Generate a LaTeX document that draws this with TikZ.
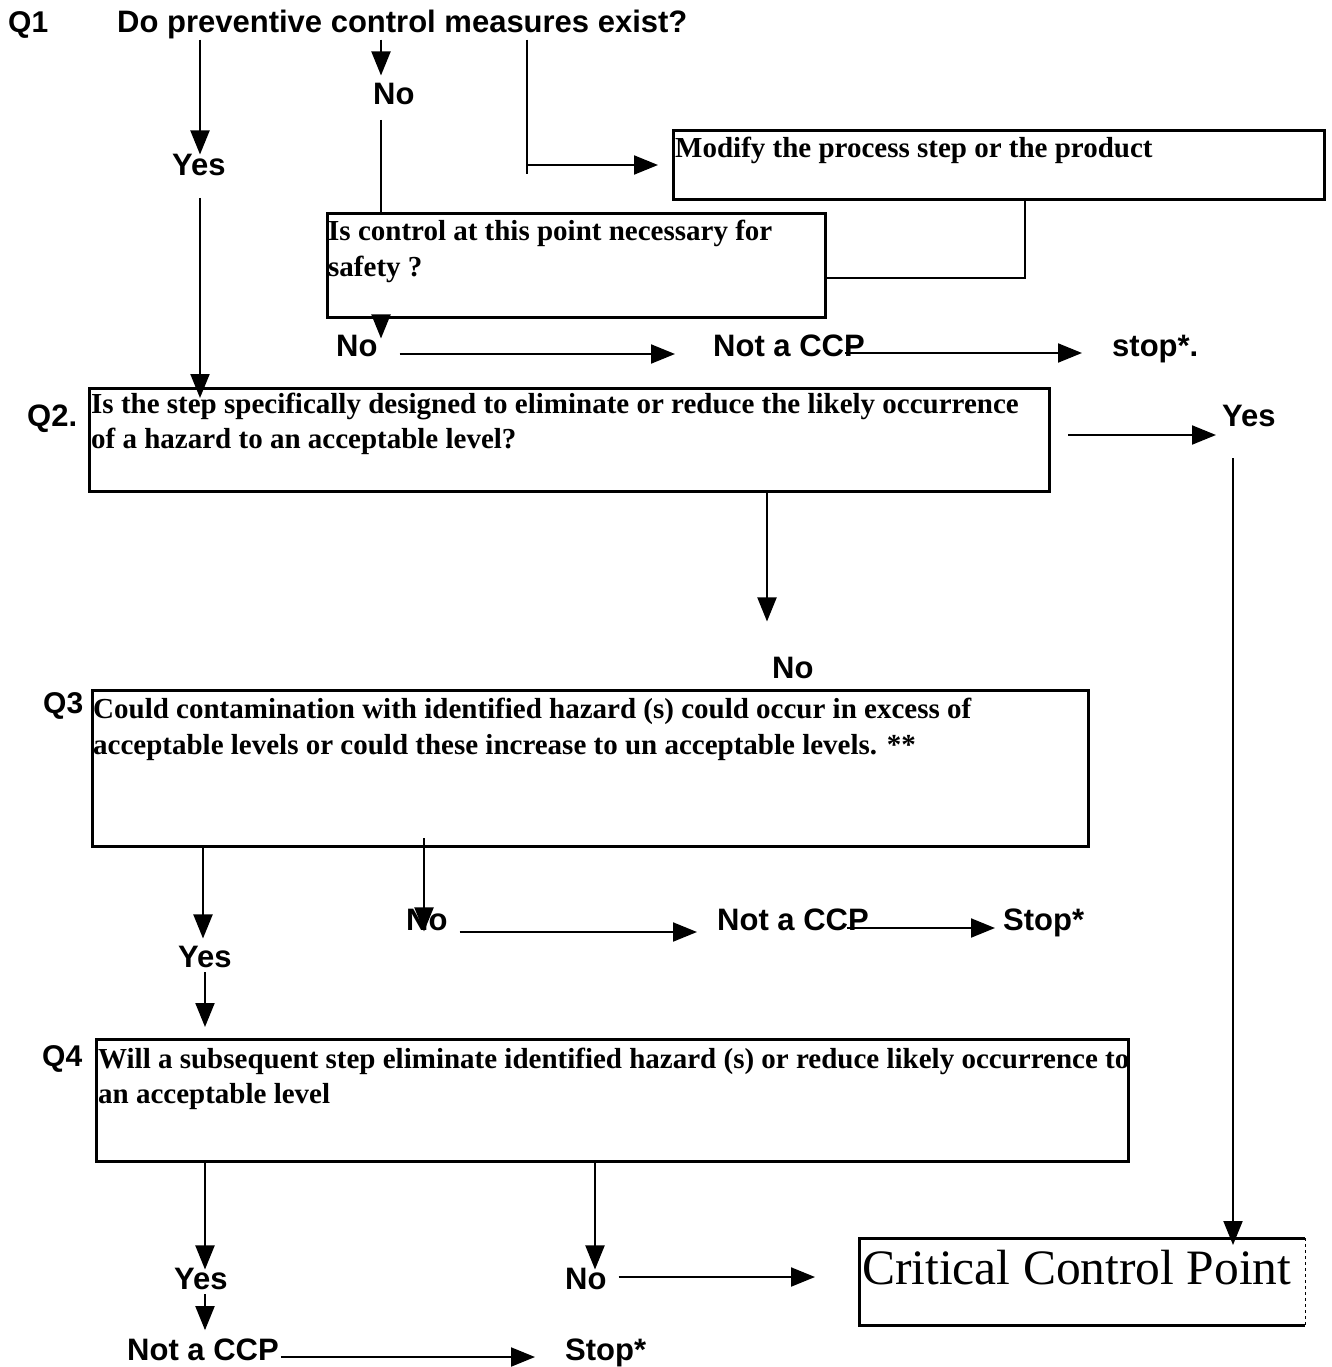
\documentclass[tikz,border=0pt]{standalone}
\usepackage{fontspec}
\setmainfont{Liberation Serif}
\newfontfamily\labfont{Liberation Sans}
\usetikzlibrary{arrows.meta,calc}

\begin{document}
\begin{tikzpicture}[x=1pt,y=-1pt,
  lab/.style={font=\labfont\bfseries\fontsize{31}{37}\selectfont, inner sep=0, anchor=base west},
  qlab/.style={font=\labfont\bfseries\fontsize{30}{36}\selectfont, inner sep=0, anchor=base west},
  qtext/.style={font=\bfseries\fontsize{29}{35}\selectfont, inner sep=0, anchor=base west},
  qbox/.style={draw, line width=3pt, anchor=north west, inner sep=0},
  conn/.style={line width=2pt},
  arr/.style={line width=2pt, -{Triangle[length=24pt,width=19pt]}},
]
\fill[white] (0,0) rectangle (1332,1367);
\useasboundingbox (0,0) rectangle (1332,1367);

% connector columns
\coordinate (xA) at (200,0);
\coordinate (xB) at (381,0);
\coordinate (xC) at (527,0);
\coordinate (xD) at (1025,0);
\coordinate (xE) at (767,0);
\coordinate (xF) at (1233,0);
\coordinate (xG) at (203,0);
\coordinate (xG2) at (205,0);
\coordinate (xH) at (424,0);
\coordinate (xI) at (205,0);
\coordinate (xJ) at (595,0);

% Q1
\node[qlab] (q1lbl) at (8,33) {Q1};
\node[lab] (q1) at (117,33) {Do preventive control measures exist?};
\node[lab] (yes1) at (172,176) {Yes};
\node[lab] (no1) at (373,105) {No};

\node[qbox, minimum width=651pt, minimum height=69pt] (modify) at (672,129) {};
\node[qtext] (modifyt) at (675,158) {Modify the process step or the product};

\node[qbox, minimum width=498pt, minimum height=104pt] (safety) at (326,212) {};
\node[qtext] (safetya) at (328,240) {Is control at this point necessary for};
\node[qtext] (safetyb) at (328,276) {safety ?};

\node[lab] (no2) at (336,356) {No};
\node[lab] (ncc1) at (713,356) {Not a CCP};
\node[lab] (stop1) at (1112,356) {stop*.};

% Q2
\node[lab] (q2lbl) at (27,426) {Q2.};
\node[qbox, minimum width=960pt, minimum height=103pt] (q2) at (88,387) {};
\node[qtext] (q2a) at (91,413) {Is the step specifically designed to eliminate or reduce the likely occurrence};
\node[qtext] (q2b) at (91,448) {of a hazard to an acceptable level?};
\node[lab] (yes2) at (1222,426) {Yes};
\node[lab] (no3) at (772,678) {No};

% Q3
\node[qlab] (q3lbl) at (43,713) {Q3};
\node[qbox, minimum width=996pt, minimum height=156pt] (q3) at (91,689) {};
\node[qtext] (q3a) at (93,718) {Could contamination with identified hazard (s) could occur in excess of};
\node[qtext] (q3b) at (93,754) {acceptable levels or could these increase to un acceptable levels. **};
\node[lab] (yes3) at (178,967) {Yes};
\node[lab] (no4) at (406,930) {No};
\node[lab] (ncc2) at (717,930) {Not a CCP};
\node[lab] (stop2) at (1003,930) {Stop*};

% Q4
\node[qlab] (q4lbl) at (42,1066) {Q4};
\node[qbox, minimum width=1032pt, minimum height=122pt] (q4) at (95,1038) {};
\node[qtext] (q4a) at (98,1068) {Will a subsequent step eliminate identified hazard (s) or reduce likely occurrence to};
\node[qtext] (q4b) at (98,1103) {an acceptable level};
\node[lab] (yes4) at (174,1289) {Yes};
\node[lab] (no5) at (565,1289) {No};
\node[lab] (ncc3) at (127,1360) {Not a CCP};
\node[lab] (stop3) at (565,1360) {Stop*};

% result box
\node[anchor=north west, inner sep=0, minimum width=446pt, minimum height=87pt] (ccp) at (859,1238) {};
\draw[line width=3pt] (ccp.north east) -- (ccp.north west) -- (ccp.south west) -- (ccp.south east);
\draw[line width=1.2pt, dashed] (ccp.north east) -- (ccp.south east);
\node[font=\fontsize{49.5}{60}\selectfont, inner sep=0, anchor=base west] (ccpt) at (862,1284) {Critical Control Point};

% Q1 connectors
\draw[arr] (xA |- q1.south) -- (xA |- yes1.north);
\draw[arr] ($(xA |- yes1.base)+(0,22)$) -- ($(xA |- q2.north)+(0,11)$);
\draw[arr] (xB |- q1.south) -- ($(xB |- no1.north)+(0,-8)$);
\draw[conn] ($(xB |- no1.base)+(0,15)$) -- (xB |- safety.north);
\draw[arr] (xB |- safety.south) -- ($(xB |- no2.north)+(0,4)$);
\draw[conn] (xC |- q1.south) -- ($(xC |- modify.west)+(0,9)$);
\draw[arr] (xC |- modify.west) -- ($(modify.west)+(-14,0)$);
\draw[conn] (xD |- modify.south) |- ($(safety.east)+(0,12)$);
\draw[arr] ($(no2.base east)+(22,-2)$) -- ($(ncc1.base west)+(-38,-2)$);
\draw[arr] ($(ncc1.base east)+(-20,-3)$) -- ($(stop1.base west)+(-30,-3)$);

% Q2 connectors
\draw[arr] ($(q2.east)+(17,-5)$) -- ++(148,0);
\draw[arr] ($(xF |- yes2.base)+(0,32)$) -- ($(xF |- ccp.north)+(0,7)$);
\draw[arr] (xE |- q2.south) -- ($(xE |- no3.north)+(0,-35)$);

% Q3 connectors
\draw[arr] (xG |- q3.south) -- ($(xG |- yes3.north)+(0,-7)$);
\draw[arr] ($(xG2 |- yes3.base)+(0,5)$) -- ($(xG2 |- q4.north)+(0,-11)$);
\draw[arr] ($(xH |- q3.south)+(0,-10)$) -- ($(xH |- no4.north)+(0,23)$);
\draw[arr] ($(no4.base east)+(12,2)$) -- ($(ncc2.base west)+(-20,2)$);
\draw[arr] ($(ncc2.base east)+(-22,-2)$) -- ($(stop2.base west)+(-8,-2)$);

% Q4 connectors
\draw[arr] (xI |- q4.south) -- ($(xI |- yes4.north)+(0,2)$);
\draw[arr] ($(xI |- yes4.base)+(0,5)$) -- ($(xI |- ncc3.north)+(0,-8)$);
\draw[arr] (xJ |- q4.south) -- ($(xJ |- no5.north)+(0,2)$);
\draw[arr] ($(no5.base east)+(12,-12)$) -- ($(ccp.west |- no5.base)+(-44,-12)$);
\draw[arr] ($(ncc3.base east)+(2,-3)$) -- ($(stop3.base west)+(-30,-3)$);
\end{tikzpicture}
\end{document}
